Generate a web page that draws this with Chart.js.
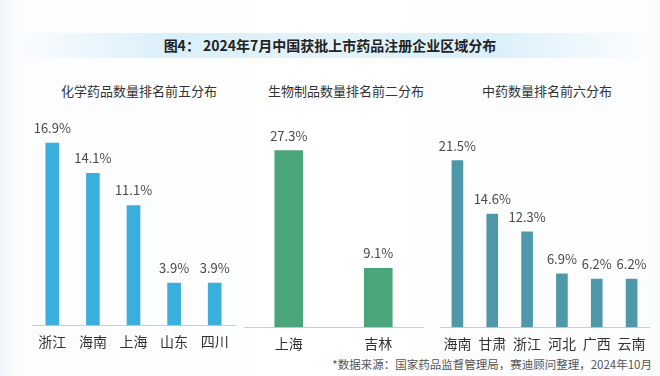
<!DOCTYPE html>
<html>
<head>
<meta charset="utf-8">
<script src="https://cdn.jsdelivr.net/npm/chart.js@4"></script>
<style>
  body { margin: 0; }
  #wrap {
    position: relative; width: 660px; height: 376px; overflow: hidden;
    background: linear-gradient(90deg, #eef3f8 0px, #fbfcfe 14px, #ffffff 50%, #fbfcfe 100%);
    font-family: "Noto Sans CJK SC", "Noto Sans", sans-serif;
  }
  #wrap canvas { position: absolute; left: 0; top: 0; }
  .banner {
    position: absolute; left: 15px; top: 33px; width: 630px; height: 25px;
    background: linear-gradient(90deg, rgba(214,238,249,0) 0%, #d9eff9 25%, #e4f3fa 50%, #d9eff9 75%, rgba(214,238,249,0) 100%);
  }
  .txt { position: absolute; white-space: nowrap; transform: translateX(-50%); color: #333; }
</style>
</head>
<body>
<div id="wrap">
  <div class="banner"></div>
  <div class="txt" style="left:330px;top:35px;font-size:14px;font-weight:bold;color:#222;">图4：&nbsp;2024年7月中国获批上市药品注册企业区域分布</div>
  <div class="txt" style="left:139px;top:81px;font-size:13px;">化学药品数量排名前五分布</div>
  <div class="txt" style="left:346px;top:81px;font-size:13px;">生物制品数量排名前二分布</div>
  <div class="txt" style="left:547px;top:81px;font-size:13px;">中药数量排名前六分布</div>
  <div class="txt" style="left:652px;top:356px;font-size:11.5px;color:#555;transform:translateX(-100%);">*数据来源：国家药品监督管理局，赛迪顾问整理，2024年10月</div>
  <canvas id="chemChart" width="660" height="376"></canvas>
  <canvas id="bioChart" width="660" height="376"></canvas>
  <canvas id="tcmChart" width="660" height="376"></canvas>
</div>
<script>
const chemCategories = ['浙江', '海南', '上海', '山东', '四川'];
const chemValues = [16.9, 14.1, 11.1, 3.9, 3.9];

const bioCategories = ['上海', '吉林'];
const bioValues = [27.3, 9.1];

const tcmCategories = ['海南', '甘肃', '浙江', '河北', '广西', '云南'];
const tcmValues = [21.5, 14.6, 12.3, 6.9, 6.2, 6.2];

const FONT = '"Noto Sans CJK SC", "Noto Sans", sans-serif';

// draws the "16.9%" labels on top of each bar
const valueLabels = {
    id: 'valueLabels',
    afterDatasetsDraw(chart) {
        const ctx = chart.ctx;
        const meta = chart.getDatasetMeta(0);
        ctx.save();
        ctx.font = '13px ' + FONT;
        ctx.fillStyle = '#4a4a4a';
        ctx.textAlign = 'center';
        ctx.textBaseline = 'middle';
        meta.data.forEach(function (bar, i) {
            ctx.fillText(chart.data.datasets[0].data[i].toFixed(1) + '%', bar.x, bar.y - 15);
        });
        ctx.restore();
    }
};

function CreatePanel(id, labels, values, color, barWidth, yMax, pad) {
    const data = {
        labels: labels,
        datasets: [{
            data: values,
            backgroundColor: color,
            barThickness: barWidth
        }]
    };
    const config = {
        type: 'bar',
        data: data,
        options: {
            responsive: false,
            animation: false,
            layout: { padding: pad },
            scales: {
                x: {
                    grid: { display: false, drawTicks: false },
                    border: { display: true, color: '#c9ced3', width: 1 },
                    ticks: { color: '#333', padding: 8, font: { size: 14, family: FONT } }
                },
                y: {
                    display: false,
                    min: 0,
                    max: yMax
                }
            },
            plugins: {
                legend: { display: false },
                tooltip: { enabled: false }
            }
        },
        plugins: [valueLabels]
    };
    return new Chart(document.getElementById(id), config);
}

CreatePanel('chemChart', chemCategories, chemValues, '#3aafdd', 13, 19.5,
    { left: 32, right: 425, top: 115, bottom: 18 });
CreatePanel('bioChart', bioCategories, bioValues, '#4aa57a', 28, 32.8,
    { left: 244, right: 237, top: 115, bottom: 16 });
CreatePanel('tcmChart', tcmCategories, tcmValues, '#4f98aa', 11, 27.4,
    { left: 440, right: 11, top: 115, bottom: 16 });
</script>
</body>
</html>
